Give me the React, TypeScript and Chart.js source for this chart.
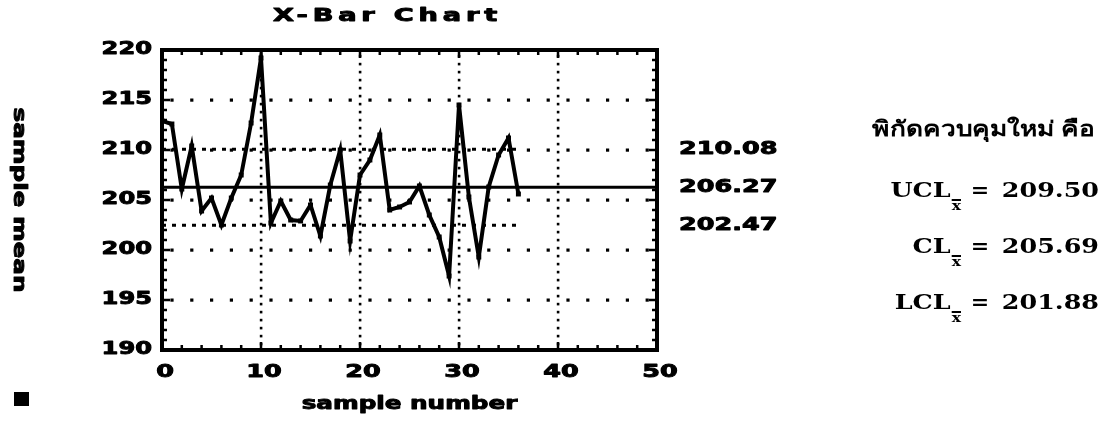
import { useEffect, useRef } from "react";
import { Chart, registerables } from "chart.js";

Chart.register(...registerables);

// Sample means per sample number
const sampleNumbers = [
  0, 1, 2, 3, 4, 5, 6, 7, 8, 9, 10, 11, 12, 13, 14, 15, 16, 17, 18,
  19, 20, 21, 22, 23, 24, 25, 26, 27, 28, 29, 30, 31, 32, 33, 34, 35, 36,
];
const sampleMeans = [
  212.9, 212.6, 206.1, 210.4, 203.9, 205.2, 202.5, 205.2, 207.5, 212.7,
  219.2, 202.7, 204.9, 203.0, 202.9, 204.5, 201.4, 206.5, 210.0, 200.9,
  207.5, 209.0, 211.5, 204.0, 204.3, 204.8, 206.4, 203.5, 201.3, 197.4,
  214.5, 205.3, 199.3, 206.3, 209.5, 211.2, 205.6,
];

// Control limits
const centerLine = 206.27;
const upperLimit = 210.08;
const lowerLimit = 202.47;
const limitLabels = ["210.08", "206.27", "202.47"];

// Axis ticks
const xTicks = [0, 10, 20, 30, 40, 50];
const yTicks = [190, 195, 200, 205, 210, 215, 220];

// Revised limits block
const revisedHeading = "พิกัดควบคุมใหม่ คือ";
const revisedNames = ["UCL", "CL", "LCL"];
const revisedValues = ["209.50", "205.69", "201.88"];

const RETRO = '"DejaVu Sans", sans-serif';
const SERIF = '"DejaVu Serif", "Liberation Serif", serif';

type Align = "left" | "center" | "right";

function drawStretched(
  ctx: CanvasRenderingContext2D,
  text: string,
  x: number,
  y: number,
  font: string,
  sx: number,
  align: Align,
  baseline: CanvasTextBaseline = "middle",
  heavy = 0
) {
  ctx.save();
  ctx.font = font;
  ctx.textBaseline = baseline;
  ctx.textAlign = "left";
  const w = ctx.measureText(text).width * sx;
  const left = align === "left" ? x : align === "center" ? x - w / 2 : x - w;
  ctx.translate(left, y);
  ctx.scale(sx, 1);
  ctx.fillText(text, 0, 0);
  if (heavy > 0) {
    ctx.lineWidth = heavy;
    ctx.lineJoin = "round";
    ctx.strokeText(text, 0, 0);
  }
  ctx.restore();
  return w;
}

const framePlugin = {
  id: "xbarFrame",
  beforeDatasetsDraw(chart: any) {
    const { ctx, chartArea: a, scales } = chart;
    const xs = scales.x;
    const ys = scales.y;
    ctx.save();
    ctx.fillStyle = "#000";
    // horizontal dotted grid
    for (const v of yTicks) {
      if (v === 190 || v === 220) continue;
      const py = ys.getPixelForValue(v);
      for (let xv = 1; xv < 50; xv += 2) {
        const px = xs.getPixelForValue(xv);
        ctx.fillRect(px - 1.5, py - 1.5, 3.2, 3.2);
      }
    }
    // vertical dotted grid
    for (const v of xTicks) {
      if (v === 0 || v === 50) continue;
      const px = xs.getPixelForValue(v);
      for (let py = a.top + 6; py < a.bottom - 2; py += 8) {
        ctx.fillRect(px - 1.2, py - 1.2, 2.6, 2.6);
      }
    }
    ctx.restore();
  },
  afterDatasetsDraw(chart: any) {
    const { ctx, chartArea: a, scales } = chart;
    const xs = scales.x;
    const ys = scales.y;
    ctx.save();
    ctx.strokeStyle = "#000";
    ctx.fillStyle = "#000";
    ctx.lineWidth = 4;
    ctx.strokeRect(a.left, a.top, a.right - a.left, a.bottom - a.top);

    // minor ticks on all four sides
    ctx.lineWidth = 2.5;
    ctx.beginPath();
    for (let v = 190; v <= 220; v += 1) {
      const py = ys.getPixelForValue(v);
      const len = v % 5 === 0 ? 8 : 5;
      ctx.moveTo(a.left, py);
      ctx.lineTo(a.left + len, py);
      ctx.moveTo(a.right, py);
      ctx.lineTo(a.right - len, py);
    }
    for (let v = 0; v <= 50; v += 2) {
      const px = xs.getPixelForValue(v);
      const len = v % 10 === 0 ? 8 : 5;
      ctx.moveTo(px, a.top);
      ctx.lineTo(px, a.top + len);
      ctx.moveTo(px, a.bottom);
      ctx.lineTo(px, a.bottom - len);
    }
    ctx.stroke();

    const tickFont = `bold 17px ${RETRO}`;
    const hv = 0.9;
    for (const v of yTicks) {
      drawStretched(ctx, String(v), a.left - 10, ys.getPixelForValue(v), tickFont, 1.42, "right", "middle", hv);
    }
    for (const v of xTicks) {
      drawStretched(ctx, String(v), xs.getPixelForValue(v) + 3, a.bottom + 23, tickFont, 1.5, "center", "middle", hv);
    }

    // title and axis titles
    const cx = (a.left + a.right) / 2;
    ctx.save();
    ctx.font = tickFont;
    (ctx as any).letterSpacing = "3px";
    drawStretched(ctx, "X-Bar Chart", cx - 22, 17, tickFont, 1.6, "center", "middle", hv);
    ctx.restore();
    drawStretched(ctx, "sample number", cx, 405, tickFont, 1.45, "center", "middle", hv);
    ctx.save();
    ctx.translate(18, 200);
    ctx.rotate(Math.PI / 2);
    drawStretched(ctx, "sample mean", 0, 0, tickFont, 1.45, "center", "middle", hv);
    ctx.restore();
    ctx.fillRect(14, 392, 15, 14);

    // limit values right of the frame
    const limits = [upperLimit, centerLine, lowerLimit];
    limits.forEach((v, i) => {
      drawStretched(ctx, limitLabels[i], a.right + 22, ys.getPixelForValue(v), tickFont, 1.5, "left", "middle", hv);
    });

    // revised control limits block
    drawStretched(ctx, revisedHeading, 1095, 136, `bold 21px "Liberation Serif", serif`, 1.25, "right", "alphabetic");
    const valFont = `bold 20px ${SERIF}`;
    const rows = [197, 253, 309];
    rows.forEach((by, i) => {
      drawStretched(ctx, revisedValues[i], 1099, by, valFont, 1.27, "right", "alphabetic");
      drawStretched(ctx, "=", 980, by, valFont, 1.1, "center", "alphabetic");
      // subscript x-bar
      const subEnd = 961;
      const subW = drawStretched(ctx, "x", subEnd, by + 13, `bold 12px ${SERIF}`, 1.3, "right", "alphabetic");
      ctx.fillRect(subEnd - subW, by + 2, subW, 2);
      drawStretched(ctx, revisedNames[i], subEnd - subW - 1, by, valFont, 1.27, "right", "alphabetic");
    });
    ctx.restore();
  },
};

export default function App() {
  const canvasRef = useRef<HTMLCanvasElement | null>(null);

  useEffect(() => {
    document.body.style.margin = "0";
    const canvas = canvasRef.current;
    if (!canvas) return;
    const W = 1106;
    const H = 421;
    const last = sampleNumbers[sampleNumbers.length - 1];
    const chart = new Chart(canvas, {
      type: "line",
      data: {
        datasets: [
          {
            data: sampleNumbers.map((x, i) => ({ x, y: sampleMeans[i] })),
            borderColor: "#000",
            backgroundColor: "#000",
            borderWidth: 4,
            pointStyle: "rect",
            pointRadius: 3.5,
            pointBorderWidth: 0,
            pointBackgroundColor: "#000",
            tension: 0,
          },
          {
            data: [
              { x: 0, y: centerLine },
              { x: 50, y: centerLine },
            ],
            borderColor: "#000",
            borderWidth: 3,
            pointRadius: 0,
          },
          {
            data: [
              { x: 0, y: upperLimit },
              { x: last, y: upperLimit },
            ],
            borderColor: "#000",
            borderWidth: 3,
            borderDash: [4, 6],
            pointRadius: 0,
          },
          {
            data: [
              { x: 0, y: lowerLimit },
              { x: last, y: lowerLimit },
            ],
            borderColor: "#000",
            borderWidth: 3,
            borderDash: [4, 6],
            pointRadius: 0,
          },
        ],
      },
      options: {
        animation: false,
        responsive: false,
        devicePixelRatio: 1,
        layout: { padding: { left: 162, right: W - 657, top: 50, bottom: H - 350 } },
        plugins: { legend: { display: false }, tooltip: { enabled: false }, title: { display: false } },
        scales: {
          x: { type: "linear", min: 0, max: 50, display: false },
          y: { type: "linear", min: 190, max: 220, display: false },
        },
      },
      plugins: [framePlugin],
    });
    return () => chart.destroy();
  }, []);

  return (
    <div style={{ width: 1106, height: 421, background: "#fff" }}>
      <canvas ref={canvasRef} width={1106} height={421} style={{ display: "block" }} />
    </div>
  );
}
